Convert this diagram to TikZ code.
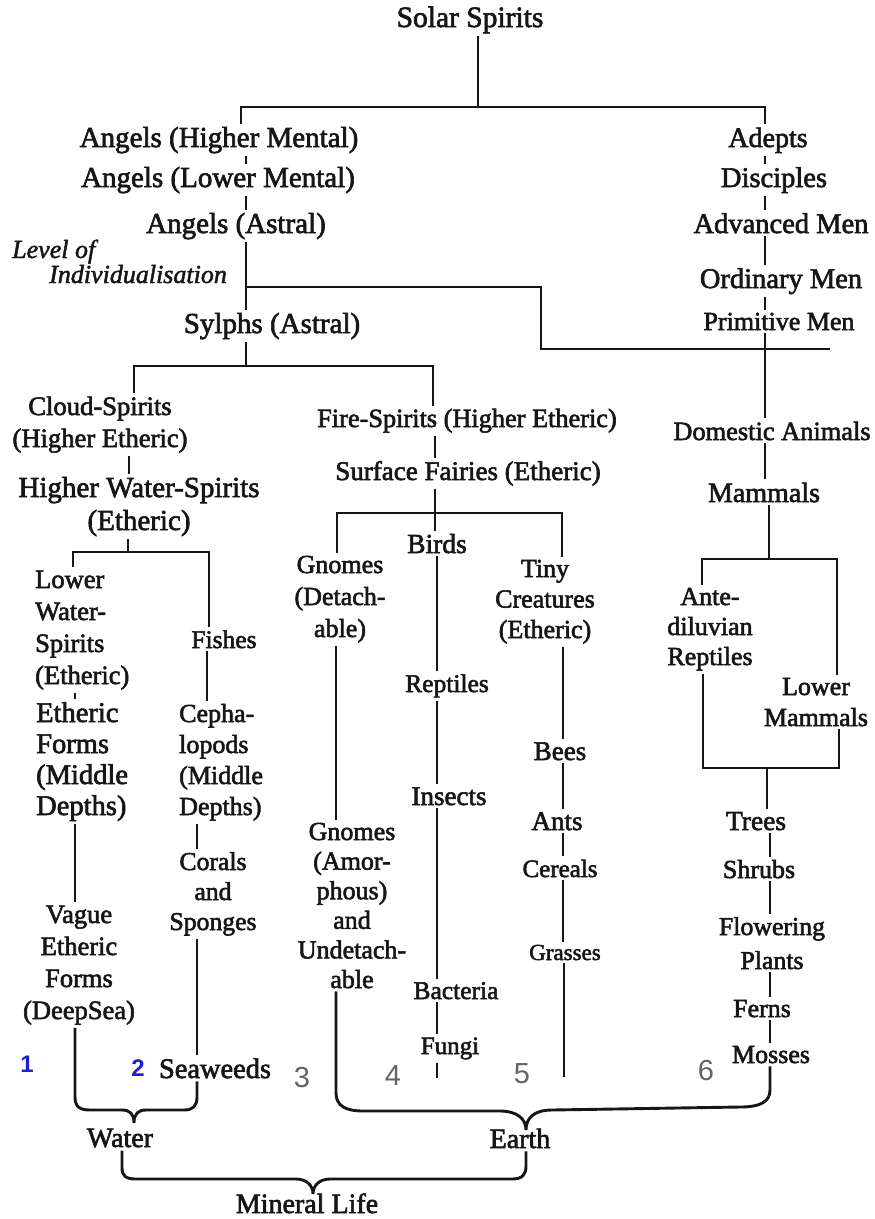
\documentclass[tikz,border=0pt]{standalone}
\usepackage{fontspec}
\setmainfont{Liberation Serif}[UprightFeatures={FakeBold=2.2}, ItalicFeatures={FakeBold=1.8}]
\newfontfamily\numfont{Liberation Sans}
\definecolor{ink}{RGB}{22,22,22}
\definecolor{numgray}{RGB}{100,100,100}
\definecolor{numblue}{RGB}{30,30,210}
\tikzset{
  lbl/.style 2 args={inner xsep=0pt, inner ysep=3pt, anchor=base, text=ink, font=\fontsize{#1}{#2}\selectfont},
  itl/.style={inner sep=0pt, anchor=base west, text=ink, font=\fontsize{26}{26}\selectfont\itshape},
  ln/.style={draw=ink, line width=2.9pt},
  numg/.style={inner sep=0pt, anchor=base, text=numgray, font=\numfont\fontsize{29}{29}\selectfont},
  numb/.style={inner sep=0pt, anchor=base, text=numblue, font=\numfont\bfseries\fontsize{24}{24}\selectfont},
}
\begin{document}
\begin{tikzpicture}[x=1pt,y=-1pt]
\useasboundingbox (0,0) rectangle (875,1219);
\fill[white] (0,0) rectangle (875,1219);

% ---------- top ----------
\node[lbl={29.5}{31}] (ss) at (470,27) {Solar Spirits};
\node[lbl={29}{31}] (ahm) at (219,147) {Angels (Higher Mental)};
\node[lbl={29}{31}] (alm) at (218,187) {Angels (Lower Mental)};
\node[lbl={29}{31}] (aas) at (236,233) {Angels (Astral)};
\node[itl] (lvl) at (12,258) {Level of};
\node[itl] (ind) at (49,283) {Individualisation};
\node[lbl={29}{31}] (syl) at (272,333) {Sylphs (Astral)};

\node[lbl={28}{31}] (ade) at (768,147) {Adepts};
\node[lbl={28.5}{31}] (dis) at (774,187) {Disciples};
\node[lbl={28.5}{31}] (adv) at (781,233) {Advanced Men};
\node[lbl={28.5}{31}] (ord) at (781,288) {Ordinary Men};
\node[lbl={26}{31}] (pri) at (779,330) {Primitive Men};

% ---------- left column (multi-line nodes are placed by their last baseline) ----------
\node[lbl={26.6}{32}, align=center] (clo) at (100,447) {Cloud-Spirits\\(Higher Etheric)};
\node[lbl={29}{33}, align=center] (hws) at (139,530) {Higher Water-Spirits\\(Etheric)};
\node[lbl={26.5}{32}, align=left, anchor=base west] (lws) at (35,684) {Lower\\Water-\\Spirits\\(Etheric)};
\node[lbl={28.5}{31}, align=left, anchor=base west] (efm) at (36,815) {Etheric\\Forms\\(Middle\\Depths)};
\node[lbl={26.5}{32}, align=center] (vag) at (79,1019) {Vague\\Etheric\\Forms\\(DeepSea)};
\node[lbl={25.5}{31}] (fis) at (224,648) {Fishes};
\node[lbl={26}{31}, align=left, anchor=base west] (cep) at (179,815) {Cepha-\\lopods\\(Middle\\Depths)};
\node[lbl={25.7}{30}, align=center] (cor) at (213,930) {Corals\\and\\Sponges};
\node[lbl={28.4}{31}] (sea) at (215,1078) {Seaweeds};
\node[numb] (n1) at (27,1072) {1};
\node[numb] (n2) at (138,1076) {2};

% ---------- middle column ----------
\node[lbl={26.3}{31}] (fir) at (467,427) {Fire-Spirits (Higher Etheric)};
\node[lbl={27}{31}] (sur) at (468,480) {Surface Fairies (Etheric)};
\node[lbl={26}{32}, align=center] (gnd) at (340,637) {Gnomes\\(Detach-\\able)};
\node[lbl={27.5}{31}] (bir) at (437,553) {Birds};
\node[lbl={26}{30.5}, align=center] (tin) at (545,638) {Tiny\\Creatures\\(Etheric)};
\node[lbl={25.5}{31}] (rep) at (447,692) {Reptiles};
\node[lbl={27}{31}] (ins) at (449,805) {Insects};
\node[lbl={26}{29.6}, align=center] (gna) at (352,988) {Gnomes\\(Amor-\\phous)\\and\\Undetach-\\able};
\node[lbl={25.5}{31}] (bac) at (456,999) {Bacteria};
\node[lbl={25}{31}] (fun) at (450,1054) {Fungi};
\node[lbl={27}{31}] (bee) at (560,760) {Bees};
\node[lbl={27}{31}] (ant) at (557,830) {Ants};
\node[lbl={25}{31}] (cer) at (560,877) {Cereals};
\node[lbl={23}{31}] (gra) at (565,960) {Grasses};

% ---------- right column ----------
\node[lbl={26.4}{31}] (dom) at (772,440) {Domestic Animals};
\node[lbl={28}{31}] (mam) at (764,502) {Mammals};
\node[lbl={26}{30}, align=center] (adr) at (710,665) {Ante-\\diluvian\\Reptiles};
\node[lbl={26}{31}, align=center] (low) at (816,726) {Lower\\Mammals};
\node[lbl={27.5}{31}] (tre) at (756,830) {Trees};
\node[lbl={26}{31}] (shr) at (759,878) {Shrubs};
\node[lbl={25.8}{34}, align=center] (flo) at (772,969) {Flowering\\Plants};
\node[lbl={26}{31}] (fer) at (762,1017) {Ferns};
\node[lbl={26}{31}] (mos) at (771,1063) {Mosses};

% numbers
\node[numg] (n3) at (302,1087) {3};
\node[numg] (n4) at (393,1085) {4};
\node[numg] (n5) at (522,1083) {5};
\node[numg] (n6) at (706,1080) {6};

% bottom
\node[lbl={28}{31}] (wat) at (120,1147) {Water};
\node[lbl={28}{31}] (ear) at (520,1148) {Earth};
\node[lbl={28}{31}] (min) at (307,1213) {Mineral Life};

% ---------- coordinates ----------
\coordinate (j1) at (478,107);
\coordinate (j1L) at (241,107);
\coordinate (j1R) at (765,107);
\coordinate (xL) at (246,0);
\coordinate (xR) at (765,0);
\coordinate (ji) at (246,287);
\coordinate (ji2) at (541,287);
\coordinate (ji3) at (541,349);
\coordinate (ji4) at (830,349);
\coordinate (j2) at (246,366);
\coordinate (j2L) at (134,366);
\coordinate (j2R) at (433,366);
\coordinate (xC) at (129,0);
\coordinate (j5) at (128,552);
\coordinate (j5L) at (73,552);
\coordinate (j5R) at (209,552);
\coordinate (xW) at (75,0);
\coordinate (xFi) at (207,0);
\coordinate (xCe) at (197,0);
\coordinate (xF) at (435,0);
\coordinate (j6) at (435,513);
\coordinate (j6L) at (337,513);
\coordinate (j6R) at (562,513);
\coordinate (xB) at (437,0);
\coordinate (fend) at (437,1078);
\coordinate (xGn) at (336,0);
\coordinate (xT) at (563,0);
\coordinate (gend) at (564,1077);
\coordinate (j3) at (769,559);
\coordinate (j3L) at (702,559);
\coordinate (j3R) at (837,559);
\coordinate (j4) at (767,768);
\coordinate (j4L) at (703,768);
\coordinate (j4R) at (839,768);
\coordinate (xP) at (770,0);
\coordinate (xWa) at (122,0);
\coordinate (xE) at (526,0);
\coordinate (wt) at (134,1123);
\coordinate (et) at (526,1130);
\coordinate (mt) at (313,1194);

% ---------- connectors ----------
\draw[ln] (ss.south -| j1) -- (j1);
\draw[ln] (ahm.north -| j1L) -- (j1L) -- (j1R) -- (ade.north -| j1R);
\draw[ln] (ahm.south -| xL) -- (alm.north -| xL);
\draw[ln] (alm.south -| xL) -- (aas.north -| xL);
\draw[ln] (aas.south -| xL) -- (syl.north -| xL);
\draw[ln] (ji) -- (ji2) -- (ji3) -- (ji4);
\draw[ln] (syl.south -| j2) -- (j2);
\draw[ln] (clo.north -| j2L) -- (j2L) -- (j2R) -- (fir.north -| j2R);

\draw[ln] (ade.south -| xR) -- (dis.north -| xR);
\draw[ln] (dis.south -| xR) -- (adv.north -| xR);
\draw[ln] (adv.south -| xR) -- (ord.north -| xR);
\draw[ln] (ord.south -| xR) -- (pri.north -| xR);
\draw[ln] (pri.south -| xR) -- (dom.north -| xR);
\draw[ln] (dom.south -| xR) -- (mam.north -| xR);
\draw[ln] (mam.south -| j3) -- (j3);
\draw[ln] (adr.north -| j3L) -- (j3L) -- (j3R) -- (low.north -| j3R);
\draw[ln] (adr.south -| j4L) -- (j4L) -- (j4R) -- (low.south -| j4R);
\draw[ln] (j4) -- (tre.north -| j4);
\draw[ln] (tre.south -| xP) -- (shr.north -| xP);
\draw[ln] (shr.south -| xP) -- (flo.north -| xP);
\draw[ln] (flo.south -| xP) -- (fer.north -| xP);
\draw[ln] (fer.south -| xP) -- (mos.north -| xP);

\draw[ln] (clo.south -| xC) -- (hws.north -| xC);
\draw[ln] (hws.south -| j5) -- (j5);
\draw[ln] (lws.north -| j5L) -- (j5L) -- (j5R) -- (fis.north -| j5R);
\draw[ln] (lws.south -| xW) -- (efm.north -| xW);
\draw[ln] (efm.south -| xW) -- (vag.north -| xW);
\draw[ln] (fis.south -| xFi) -- (cep.north -| xFi);
\draw[ln] (cep.south -| xCe) -- (cor.north -| xCe);
\draw[ln] (cor.south -| xCe) -- (sea.north -| xCe);

\draw[ln] (fir.south -| xF) -- (sur.north -| xF);
\draw[ln] (sur.south -| j6) -- (j6);
\draw[ln] (gnd.north -| j6L) -- (j6L) -- (j6R) -- (tin.north -| j6R);
\draw[ln] (j6) -- (bir.north -| j6);
\draw[ln] (bir.south -| xB) -- (rep.north -| xB);
\draw[ln] (rep.south -| xB) -- (ins.north -| xB);
\draw[ln] (ins.south -| xB) -- (bac.north -| xB);
\draw[ln] (bac.south -| xB) -- (fun.north -| xB);
\draw[ln] (fun.south -| xB) -- (fend);
\draw[ln] (gnd.south -| xGn) -- (gna.north -| xGn);
\draw[ln] (tin.south -| xT) -- (bee.north -| xT);
\draw[ln] (bee.south -| xT) -- (ant.north -| xT);
\draw[ln] (ant.south -| xT) -- (cer.north -| xT);
\draw[ln] (cer.south -| xT) -- (gra.north -| xT);
\draw[ln] (gra.south -| gend) -- (gend);

% braces
\draw[ln] (vag.south -| xW) -- (75,1097) .. controls (75,1107) and (80,1110) .. (90,1110) -- (122,1110)
  .. controls (130,1110) and (134,1114) .. (wt) .. controls (134,1114) and (138,1110) .. (146,1110)
  -- (184,1110) .. controls (193,1110) and (197,1106) .. (197,1097) -- (sea.south -| xCe);
\draw[ln] (gna.south -| xGn) -- (336,1093) .. controls (336,1106) and (346,1111) .. (363,1111) -- (500,1111)
  .. controls (516,1111) and (526,1118) .. (et) .. controls (526,1118) and (534,1110) .. (552,1110)
  -- (740,1107) .. controls (760,1107) and (770,1102) .. (770,1090) -- (mos.south -| xP);
\draw[ln] (wat.south -| xWa) -- (122,1168) .. controls (122,1176) and (126,1179) .. (136,1179) -- (296,1179)
  .. controls (306,1179) and (313,1185) .. (mt) .. controls (313,1185) and (320,1179) .. (330,1179)
  -- (512,1179) .. controls (522,1179) and (526,1175) .. (526,1166) -- (ear.south -| xE);
\end{tikzpicture}
\end{document}
